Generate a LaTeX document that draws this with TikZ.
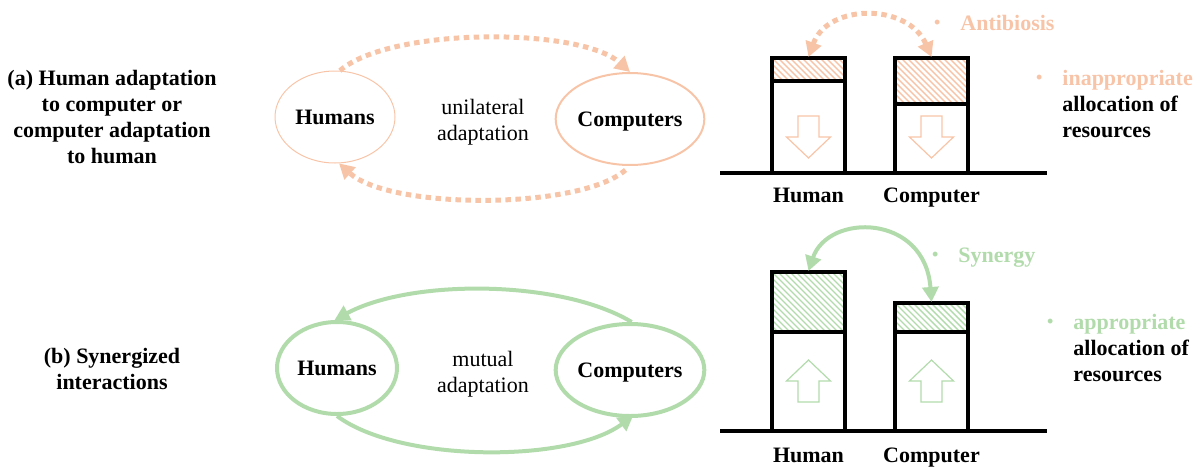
\documentclass[tikz,border=0pt]{standalone}
\usepackage{fontspec}
\setmainfont{Liberation Serif}
\usetikzlibrary{shapes.geometric,arrows.meta}
\definecolor{peach}{RGB}{248,196,168}
\definecolor{sage}{RGB}{178,219,172}

% diagonal hatching inside a rectangle: colour, x1, y1, x2, y2
\newcommand\hatchbox[5]{%
  \begin{scope}
    \clip (#2,#3) rectangle (#4,#5);
    \foreach \k in {-84,-78,...,84}
      \draw[#1, line width=0.7pt] ({#2+\k},#3) -- ++(100,100);
  \end{scope}}

\tikzset{
  blob/.style={ellipse, inner sep=0pt, minimum width=60pt, minimum height=46pt,
    text depth=0pt, font=\fontsize{11}{13}\selectfont\bfseries},
  lbl/.style={inner sep=0pt, font=\fontsize{11}{13}\selectfont\bfseries},
  plain/.style={inner sep=0pt, font=\fontsize{11}{13}\selectfont},
  dotarrow/.style={peach, line width=2.5pt, dash pattern=on 2.75pt off 2.25pt,
    -{Triangle[length=7.5pt,width=8pt]}},
  solidarrow/.style={sage, line width=2pt, -{Triangle[length=7.5pt,width=8pt]}},
  bar/.style={line width=2pt},
  fatdown/.pic={\draw (-10.5,0) -- (10.5,0) -- (10.5,21) -- (22,21) -- (0,42)
    -- (-22,21) -- (-10.5,21) -- cycle;}
}
\newcommand\dotb[1]{\llap{\textcolor{#1}{\raisebox{0.6pt}{\fontsize{9}{9}\selectfont\textbullet}}\hspace{10pt}}}

\begin{document}
\begin{tikzpicture}[x=0.5pt,y=-0.5pt]
\useasboundingbox (0,0) rectangle (1198,466);

% ---------- row (a) ----------
% multi-line nodes are placed by the baseline of their last line
\node[lbl, align=center, anchor=base] (la) at (112,163)
  {(a) Human adaptation\\to computer or\\computer adaptation\\to human};

\node[blob, draw=peach, line width=0.5pt] (hA) at (335,117) {Humans};
\node[blob, draw=peach, line width=1pt] (cA) at (630,119) {Computers};
\node[plain, align=center, anchor=base] (uA) at (483,140) {unilateral\\adaptation};

\draw[dotarrow] (hA.84) .. controls (390,27) and (580,27) .. (cA.north);
\draw[dotarrow, shorten <=3pt] (cA.south) .. controls (580,210) and (390,210) .. (hA.-85);

% resource bars
\hatchbox{peach}{772}{58}{845}{81}
\hatchbox{peach}{895}{58}{968}{104}
\draw[bar] (772,173) -- (772,58) -- (845,58) -- (845,173);
\draw[bar] (772,81) -- (845,81);
\draw[bar] (895,173) -- (895,58) -- (968,58) -- (968,173);
\draw[bar] (895,104) -- (968,104);
\draw[bar] (720,173) -- (1047,173);
\pic[peach, line width=0.6pt] at (808.5,116) {fatdown};
\pic[peach, line width=0.6pt] at (931.5,116) {fatdown};
\coordinate (hbA) at (808.5,57);
\coordinate (cbA) at (931.5,57);
\draw[dotarrow, <->, >={Triangle[length=7.5pt,width=8pt]}]
  (hbA) .. controls (828,3) and (908,3) .. (cbA);

\node[lbl, anchor=base] (xhA) at (808.5,202) {Human};
\node[lbl, anchor=base] (xcA) at (931.5,202) {Computer};

\node[lbl, anchor=base west, text=peach] (anti) at (960,30) {\dotb{peach}Antibiosis};
\node[lbl, anchor=base west, align=left] (resA) at (1062,137)
  {\dotb{peach}\textcolor{peach}{inappropriate}\\allocation of\\resources};

% ---------- row (b) ----------
\node[lbl, align=center, anchor=base] (lb) at (112,389)
  {(b) Synergized\\interactions};

\node[blob, draw=sage, line width=2pt] (hB) at (337,368) {Humans};
\node[blob, draw=sage, line width=2pt, minimum width=62pt] (cB) at (630,370) {Computers};
\node[plain, align=center, anchor=base] (uB) at (483,392) {mutual\\adaptation};

\draw[solidarrow] (cB.88) .. controls (560,279) and (410,279) .. (hB.93);
\draw[solidarrow, shorten >=-2pt] (hB.south) .. controls (400,463) and (570,463) .. (cB.south);

\hatchbox{sage}{772}{272}{845}{332}
\hatchbox{sage}{895}{303}{968}{332}
\draw[bar] (772,431) -- (772,272) -- (845,272) -- (845,431);
\draw[bar] (772,332) -- (845,332);
\draw[bar] (895,431) -- (895,303) -- (968,303) -- (968,431);
\draw[bar] (895,332) -- (968,332);
\draw[bar] (720,431) -- (1047,431);
\pic[sage, line width=0.6pt, yscale=-1] at (808.5,402) {fatdown};
\pic[sage, line width=0.6pt, yscale=-1] at (931.5,402) {fatdown};
\coordinate (hbB) at (808.5,271);
\coordinate (cbB) at (931.5,302);
\draw[solidarrow, <->, >={Triangle[length=7.5pt,width=8pt]}]
  (hbB) .. controls (828,213) and (925,213) .. (cbB);

\node[lbl, anchor=base] (xhB) at (808.5,462) {Human};
\node[lbl, anchor=base] (xcB) at (931.5,462) {Computer};

\node[lbl, anchor=base west, text=sage] (syn) at (958,262) {\dotb{sage}Synergy};
\node[lbl, anchor=base west, align=left] (resB) at (1073,381)
  {\dotb{sage}\textcolor{sage}{appropriate}\\allocation of\\resources};
\end{tikzpicture}
\end{document}
